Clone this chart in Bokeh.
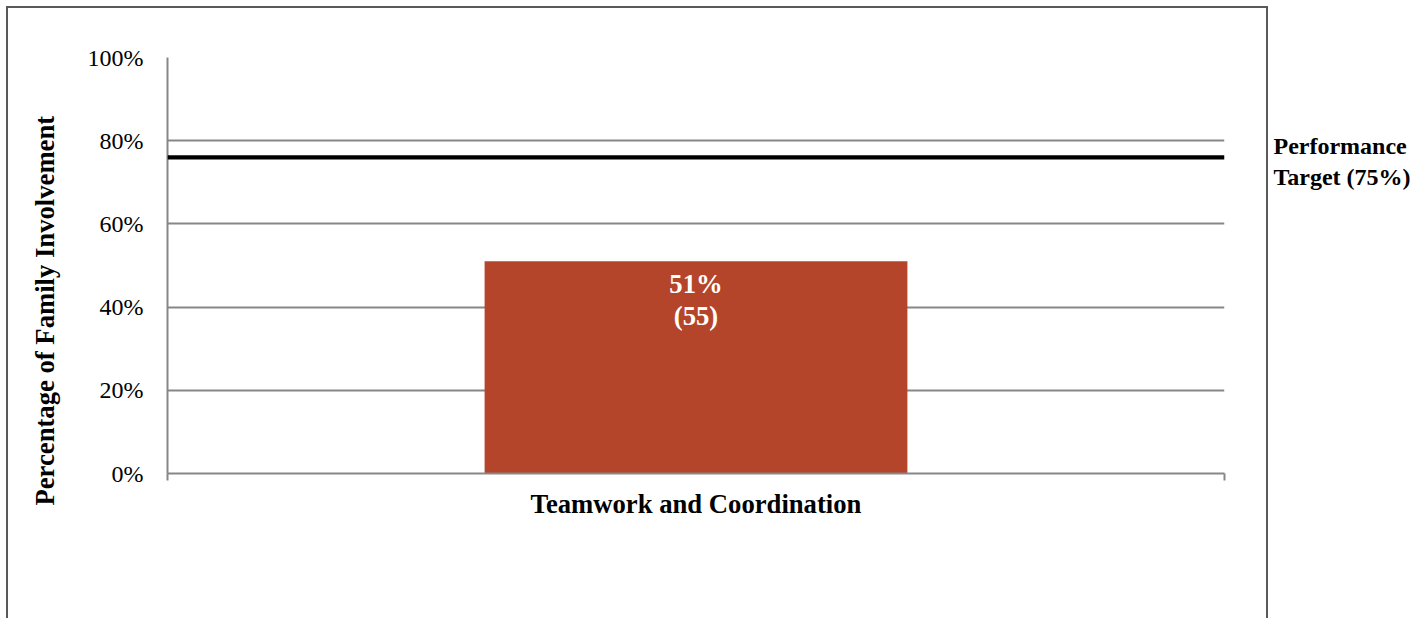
from bokeh.plotting import figure
from bokeh.models import (Range1d, LinearAxis, FixedTicker, Title,
                          NumeralTickFormatter, BoxAnnotation, ColumnDataSource, Grid)
from bokeh.core.properties import value
from bokeh.embed import file_html
from bokeh.resources import INLINE

# ---- data ----
categories = ["Teamwork and Coordination"]
percent_values = [0.51]
family_counts = [55]
target_percent = 0.75          # stated performance target
target_line_value = 0.76       # where the target line is drawn in the picture
y_ticks = [0, 0.2, 0.4, 0.6, 0.8, 1.0]
y_title = "Percentage of Family Involvement"

FONT = "Liberation Serif"
GRID = "#878787"
BAR = "#B5452A"
EDGE = "#595959"

n_cat = len(categories)
x_centers = [i + 0.5 for i in range(n_cat)]
bar_labels = [f"{v:.0%}\n({n})" for v, n in zip(percent_values, family_counts)]
target_text = f"Performance\nTarget ({target_percent:.0%})"
src = ColumnDataSource(dict(x=x_centers, pct=percent_values, label=bar_labels))

bg = ", ".join([
    f"linear-gradient({EDGE},{EDGE}) 6px 6px / 2px 900px no-repeat",
    f"linear-gradient({EDGE},{EDGE}) 6px 6px / 1262px 2px no-repeat",
    f"linear-gradient({EDGE},{EDGE}) 1266px 6px / 2px 900px no-repeat",
    "#ffffff",
])

p = figure(width=1424, height=618,
           x_range=Range1d(0, n_cat), y_range=Range1d(0, 1),
           output_backend="svg", toolbar_location=None,
           x_axis_location=None, y_axis_location=None,
           min_border_left=167, min_border_right=200,
           min_border_top=57, min_border_bottom=145,
           styles={"background": bg})
p.grid.visible = False
p.outline_line_color = None
p.background_fill_color = "white"
p.border_fill_color = None

# y axis
yax = LinearAxis(ticker=FixedTicker(ticks=y_ticks),
                 formatter=NumeralTickFormatter(format="0%"),
                 axis_line_color=GRID, axis_line_width=2,
                 major_tick_line_color=None, minor_tick_line_color=None,
                 major_tick_out=0, major_tick_in=0,
                 major_label_text_font=FONT, major_label_text_font_size="24px",
                 major_label_text_color="black", major_label_standoff=24)
p.add_layout(yax, "left")
p.add_layout(Grid(dimension=1, ticker=FixedTicker(ticks=y_ticks),
                  grid_line_color=GRID, grid_line_width=2))

# y title
p.add_layout(Title(text=y_title, align="left", offset=-32, standoff=49,
                   text_font=FONT, text_font_size="26.67px", text_font_style="bold",
                   text_color="black"), "left")

# bottom tick axis (category boundaries)
tax = LinearAxis(ticker=FixedTicker(ticks=list(range(n_cat + 1))),
                 axis_line_color=GRID, axis_line_width=2,
                 major_tick_line_color=GRID, major_tick_line_width=2,
                 major_tick_in=0, major_tick_out=7,
                 minor_tick_line_color=None,
                 major_label_text_color=None, major_label_text_font_size="1px",
                 major_label_standoff=0)
p.add_layout(tax, "below")

# category labels
cax = LinearAxis(ticker=FixedTicker(ticks=x_centers),
                 major_label_overrides={x: c for x, c in zip(x_centers, categories)},
                 axis_line_color=None, major_tick_line_color=None,
                 minor_tick_line_color=None, major_tick_in=0, major_tick_out=0,
                 major_label_text_font=FONT, major_label_text_font_size="26.67px",
                 major_label_text_font_style="bold", major_label_text_color="black",
                 major_label_standoff=8)
p.add_layout(cax, "below")

# target label on the right
rax = LinearAxis(ticker=FixedTicker(ticks=[target_percent]),
                 major_label_overrides={target_percent: target_text},
                 axis_line_color=None, major_tick_line_color=None,
                 minor_tick_line_color=None, major_tick_in=0, major_tick_out=0,
                 major_label_text_font=FONT, major_label_text_font_size="24px",
                 major_label_text_font_style="bold", major_label_text_color="black",
                 major_label_standoff=49)
p.add_layout(rax, "right")

# bars
p.vbar(x="x", top="pct", width=0.4, source=src, fill_color=BAR, line_color=None)
p.text(x="x", y="pct", text="label", source=src, text_align="center",
       text_baseline="top", y_offset=8, text_color="white",
       text_font=value(FONT), text_font_size="26.67px", text_font_style="bold",
       text_line_height=1.05)

# target line
p.add_layout(BoxAnnotation(left=0, right=n_cat,
                           bottom=target_line_value - 0.005, top=target_line_value + 0.005,
                           fill_color="black", fill_alpha=1, line_color=None))

open("out.html", "w").write(file_html(p, INLINE))
